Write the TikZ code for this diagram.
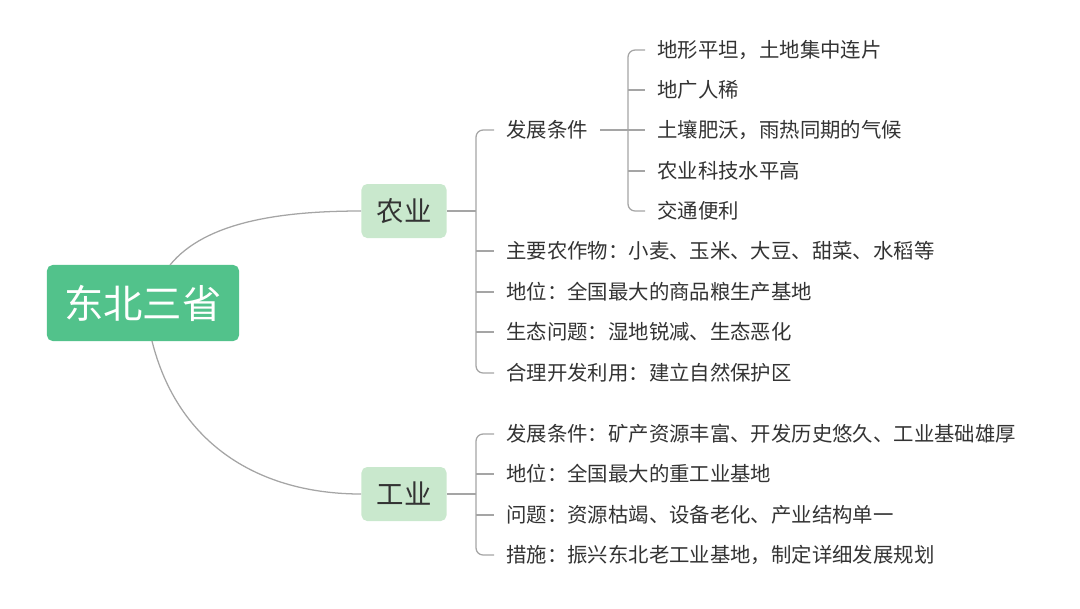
\documentclass[tikz,border=0pt]{standalone}
\usepackage{fontspec}
\setmainfont{Noto Sans CJK SC}
\definecolor{rootgreen}{HTML}{52C28B}
\definecolor{subgreen}{HTML}{C9E8CD}
\definecolor{linegray}{HTML}{A5A5A5}
\definecolor{txtgray}{HTML}{333333}
\begin{document}
\begin{tikzpicture}[x=0.025cm, y=-0.025cm,
    root/.style={fill=rootgreen, text=white, rounded corners=4pt, minimum width=4.8cm, minimum height=1.9cm, font=\fontsize{28}{31}\selectfont},
    topic/.style={fill=subgreen, text=txtgray, rounded corners=4pt, minimum width=2.125cm, minimum height=1.35cm, font=\fontsize{19.5}{22}\selectfont},
    item/.style={anchor=west, text=txtgray, inner xsep=0.3cm, inner ysep=0pt, text height=1em, text depth=0pt, font=\fontsize{14.5}{17}\selectfont},
    branch/.style={draw=linegray, line width=0.9pt},
    bracket/.style={branch, rounded corners=5pt}]
    \useasboundingbox (0,0) rectangle (1080,608);
    \node[root] (dbsx) at (143,303) {东北三省};
    \node[topic] (ny) at (404,211) {农业};
    \node[topic] (gy) at (404,494) {工业};
    \draw[branch] (170,265) .. controls (205,222) and (280,211) .. (ny.west);
    \draw[branch] (152,341) .. controls (178,445) and (260,494) .. (gy.west);
    % 农业
    \coordinate (nyj) at (476,211);
    \node[item] (ny1) at (494,130) {发展条件};
    \node[item] (ny2) at (494,251) {主要农作物：小麦、玉米、大豆、甜菜、水稻等};
    \node[item] (ny3) at (494,292) {地位：全国最大的商品粮生产基地};
    \node[item] (ny4) at (494,332) {生态问题：湿地锐减、生态恶化};
    \node[item] (ny5) at (494,373) {合理开发利用：建立自然保护区};
    \draw[branch] (ny.east) -- (nyj);
    \draw[bracket] (ny1.west) -| (nyj) |- (ny5.west);
    \foreach \n in {ny2,ny3,ny4}
        \draw[branch] (nyj |- \n.west) -- (\n.west);
    % 发展条件
    \coordinate (tjj) at (628,130);
    \node[item] (tj1) at (645,50) {地形平坦，土地集中连片};
    \node[item] (tj2) at (645,90) {地广人稀};
    \node[item] (tj3) at (645,130) {土壤肥沃，雨热同期的气候};
    \node[item] (tj4) at (645,171) {农业科技水平高};
    \node[item] (tj5) at (645,211) {交通便利};
    \draw[branch] (ny1.east) -- (tjj) -- (tj3.west);
    \draw[bracket] (tj1.west) -| (tjj) |- (tj5.west);
    \foreach \n in {tj2,tj4}
        \draw[branch] (tjj |- \n.west) -- (\n.west);
    % 工业
    \coordinate (gyj) at (476,494);
    \node[item] (gy1) at (494,434) {发展条件：矿产资源丰富、开发历史悠久、工业基础雄厚};
    \node[item] (gy2) at (494,474) {地位：全国最大的重工业基地};
    \node[item] (gy3) at (494,515) {问题：资源枯竭、设备老化、产业结构单一};
    \node[item] (gy4) at (494,555) {措施：振兴东北老工业基地，制定详细发展规划};
    \draw[branch] (gy.east) -- (gyj);
    \draw[bracket] (gy1.west) -| (gyj) |- (gy4.west);
    \foreach \n in {gy2,gy3}
        \draw[branch] (gyj |- \n.west) -- (\n.west);
\end{tikzpicture}
\end{document}
